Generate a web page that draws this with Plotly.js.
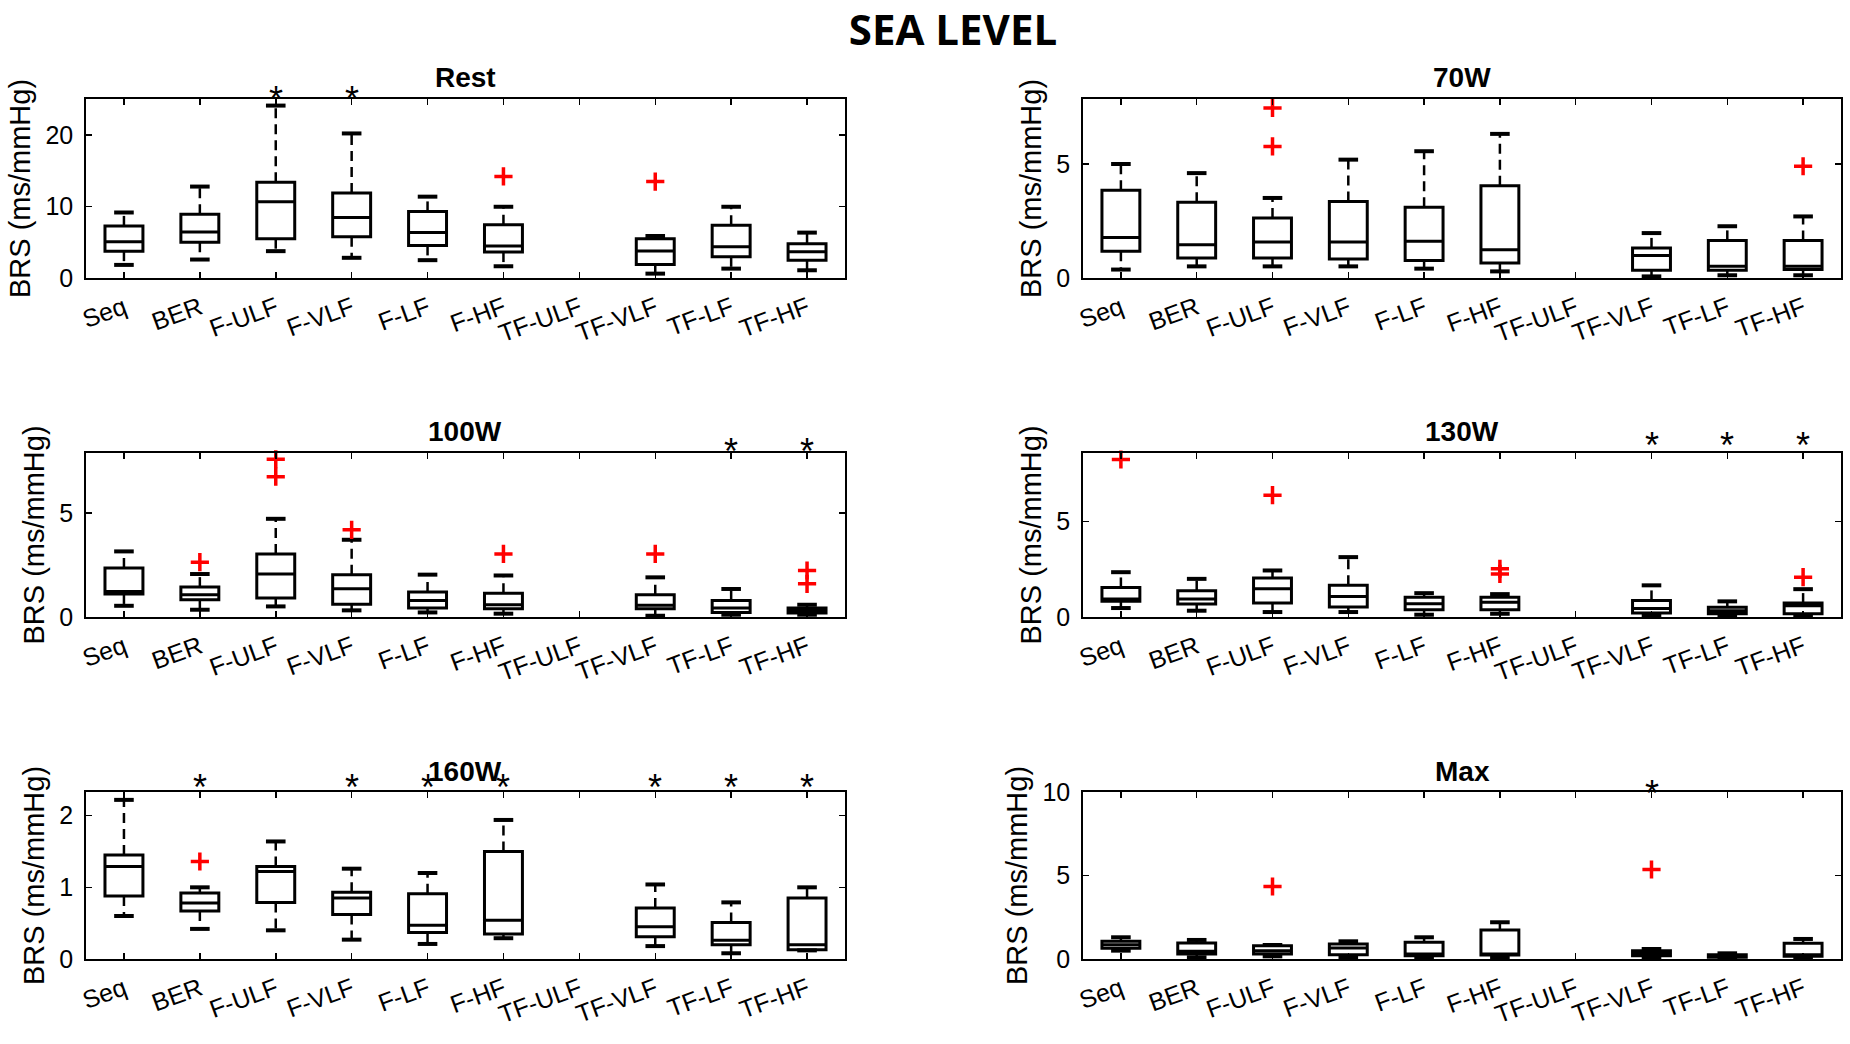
<!DOCTYPE html>
<html><head><meta charset="utf-8">
<script src="https://cdn.plot.ly/plotly-3.0.1.min.js"></script>
<style>html,body{margin:0;padding:0;background:#fff;} #chart{width:1850px;height:1044px;}</style>
</head><body><div id="chart"></div>
<script>
const categories = ['Seq','BER','F-ULF','F-VLF','F-LF','F-HF','TF-ULF','TF-VLF','TF-LF','TF-HF'];
const mainTitle = 'SEA LEVEL';
const yTitle = 'BRS (ms/mmHg)';

// Rest
const restLow  = [1.83, 2.58, 3.75, 2.82, 2.49, 1.64, null, 0.61, 1.31, 1.08];
const restQ1   = [3.75, 5.00, 5.49, 5.77, 4.55, 3.62, null, 1.88, 2.96, 2.49];
const restMed  = [5.07, 6.43, 10.66, 8.45, 6.34, 4.46, null, 3.76, 4.37, 3.66];
const restQ3   = [7.28, 8.92, 13.38, 11.88, 9.30, 7.42, null, 5.49, 7.37, 4.79];
const restHigh = [9.15, 12.77, 24.08, 20.19, 11.36, 9.95, null, 5.87, 9.95, 6.34];
const restOutX = ['F-HF','TF-VLF'];
const restOutY = [14.18, 13.47];
const restSig  = ['F-ULF','F-VLF'];

// 70W
const w70Low  = [0.37, 0.51, 0.51, 0.51, 0.41, 0.29, null, 0.07, 0.12, 0.12];
const w70Q1   = [1.17, 0.88, 0.88, 0.83, 0.77, 0.66, null, 0.34, 0.34, 0.37];
const w70Med  = [1.78, 1.46, 1.58, 1.58, 1.61, 1.24, null, 0.99, 0.51, 0.51];
const w70Q3   = [3.85, 3.32, 2.63, 3.36, 3.10, 4.05, null, 1.32, 1.65, 1.64];
const w70High = [5.00, 4.60, 3.51, 5.19, 5.56, 6.32, null, 1.97, 2.27, 2.70];
const w70OutX = ['F-ULF','F-ULF','TF-HF'];
const w70OutY = [7.46, 5.77, 4.90];
const w70Sig  = [];

// 100W
const w100Low  = [0.54, 0.35, 0.51, 0.32, 0.22, 0.16, null, 0.06, 0.11, 0.11];
const w100Q1   = [1.11, 0.83, 0.91, 0.62, 0.43, 0.40, null, 0.40, 0.22, 0.19];
const w100Med  = [1.23, 1.07, 2.07, 1.36, 0.79, 0.59, null, 0.56, 0.43, 0.32];
const w100Q3   = [2.36, 1.44, 3.04, 2.04, 1.20, 1.15, null, 1.07, 0.79, 0.43];
const w100High = [3.16, 2.07, 4.73, 3.72, 2.04, 2.00, null, 1.91, 1.35, 0.59];
const w100OutX = ['BER','F-ULF','F-ULF','F-VLF','F-HF','TF-VLF','TF-HF','TF-HF'];
const w100OutY = [2.64, 7.60, 6.76, 4.20, 3.04, 3.04, 2.24, 1.60];
const w100Sig  = ['TF-LF','TF-HF'];

// 130W
const w130Low  = [0.47, 0.33, 0.26, 0.26, 0.12, 0.17, null, 0.07, 0.03, 0.07];
const w130Q1   = [0.82, 0.68, 0.73, 0.52, 0.38, 0.38, null, 0.21, 0.17, 0.17];
const w130Med  = [0.94, 0.94, 1.48, 1.08, 0.70, 0.78, null, 0.44, 0.33, 0.59];
const w130Q3   = [1.55, 1.38, 2.04, 1.66, 1.03, 1.03, null, 0.87, 0.51, 0.73];
const w130High = [2.35, 2.00, 2.44, 3.14, 1.25, 1.20, null, 1.66, 0.82, 1.46];
const w130OutX = ['Seq','F-ULF','F-HF','F-HF','TF-HF'];
const w130OutY = [8.26, 6.39, 2.53, 2.26, 2.09];
const w130Sig  = ['TF-VLF','TF-LF','TF-HF'];

// 160W
const w160Low  = [0.60, 0.42, 0.40, 0.27, 0.21, 0.29, null, 0.18, 0.08, 0.12];
const w160Q1   = [0.88, 0.67, 0.79, 0.62, 0.37, 0.35, null, 0.31, 0.20, 0.13];
const w160Med  = [1.29, 0.78, 1.22, 0.85, 0.47, 0.54, null, 0.45, 0.26, 0.20];
const w160Q3   = [1.45, 0.92, 1.29, 0.93, 0.91, 1.50, null, 0.71, 0.51, 0.85];
const w160High = [2.22, 1.00, 1.64, 1.26, 1.20, 1.94, null, 1.04, 0.79, 1.00];
const w160OutX = ['BER'];
const w160OutY = [1.36];
const w160Sig  = ['BER','F-VLF','F-LF','F-HF','TF-VLF','TF-LF','TF-HF'];

// Max
const maxLow  = [0.50, 0.10, 0.16, 0.10, 0.10, 0.10, null, 0.10, 0.04, 0.10];
const maxQ1   = [0.64, 0.30, 0.30, 0.26, 0.20, 0.24, null, 0.20, 0.10, 0.16];
const maxMed  = [0.86, 0.46, 0.50, 0.66, 0.30, 0.30, null, 0.34, 0.16, 0.26];
const maxQ3   = [1.06, 0.96, 0.80, 0.90, 1.00, 1.74, null, 0.50, 0.26, 0.94];
const maxHigh = [1.30, 1.14, 0.84, 1.06, 1.30, 2.20, null, 0.60, 0.34, 1.20];
const maxOutX = ['F-ULF','TF-VLF'];
const maxOutY = [4.34, 5.36];
const maxSig  = ['TF-VLF'];

const panelTitles = ['Rest','70W','100W','130W','160W','Max'];
const yMax   = [25, 7.85, 7.9, 8.6, 2.33, 10];
const yDtick = [10, 5, 5, 5, 1, 5];

const panels = [
  {low:restLow,q1:restQ1,med:restMed,q3:restQ3,high:restHigh,ox:restOutX,oy:restOutY,sig:restSig,sigShift:0},
  {low:w70Low,q1:w70Q1,med:w70Med,q3:w70Q3,high:w70High,ox:w70OutX,oy:w70OutY,sig:w70Sig,sigShift:0},
  {low:w100Low,q1:w100Q1,med:w100Med,q3:w100Q3,high:w100High,ox:w100OutX,oy:w100OutY,sig:w100Sig,sigShift:2},
  {low:w130Low,q1:w130Q1,med:w130Med,q3:w130Q3,high:w130High,ox:w130OutX,oy:w130OutY,sig:w130Sig,sigShift:8},
  {low:w160Low,q1:w160Q1,med:w160Med,q3:w160Q3,high:w160High,ox:w160OutX,oy:w160OutY,sig:w160Sig,sigShift:5},
  {low:maxLow,q1:maxQ1,med:maxMed,q3:maxQ3,high:maxHigh,ox:maxOutX,oy:maxOutY,sig:maxSig,sigShift:-1}
];

const W = 1850, H = 1044;
const colX = [[86, 845], [1083, 1841]];
const rowY = [[99, 278], [453, 617], [792, 959]];
const titleY = [78, 432, 771];

const FONT = '"Liberation Sans", Arial, Helvetica, sans-serif';
const traces = [];
const layout = {
  width: W, height: H,
  margin: {l:0, r:0, t:0, b:0},
  paper_bgcolor: '#fff', plot_bgcolor: '#fff',
  showlegend: false,
  font: {family: FONT, color: '#000'},
  annotations: [],
  title: {text: mainTitle, x: 953/W, xanchor: 'center', y: 1 - 30/H, yanchor: 'middle',
          font: {family: '"Open Sans", "DejaVu Sans", sans-serif', size: 42, weight: 700, color: '#000'}}
};

panels.forEach((p, i) => {
  const n = i + 1;
  const xa = 'x' + (n === 1 ? '' : n), ya = 'y' + (n === 1 ? '' : n);
  const col = i % 2, row = Math.floor(i / 2);
  const idx = [];
  categories.forEach((c, k) => { if (p.q1[k] !== null) idx.push(k); });
  const pos = idx.map(k => k + 1);

  traces.push({
    type: 'box', xaxis: xa, yaxis: ya,
    x: pos,
    q1: idx.map(k => p.q1[k]), median: idx.map(k => p.med[k]), q3: idx.map(k => p.q3[k]),
    lowerfence: idx.map(k => p.q1[k]), upperfence: idx.map(k => p.q3[k]),
    width: 0.5, whiskerwidth: 0, boxpoints: false,
    line: {color: '#000', width: 3}, fillcolor: 'rgba(0,0,0,0)',
    hoverinfo: 'skip'
  });

  const wx = [], wy = [];
  idx.forEach(k => {
    wx.push(k + 1, k + 1, null, k + 1, k + 1, null);
    wy.push(p.q3[k], p.high[k], null, p.q1[k], p.low[k], null);
  });
  traces.push({type: 'scatter', mode: 'lines', xaxis: xa, yaxis: ya, x: wx, y: wy,
    line: {color: '#000', width: 2.5, dash: '10px,6px'}, hoverinfo: 'skip', connectgaps: false});

  const cx = [], cy = [];
  idx.forEach(k => { cx.push(k + 1, k + 1); cy.push(p.low[k], p.high[k]); });
  traces.push({type: 'scatter', mode: 'markers', xaxis: xa, yaxis: ya, x: cx, y: cy,
    marker: {symbol: 'line-ew', size: 14, line: {color: '#000', width: 4}}, hoverinfo: 'skip'});

  traces.push({type: 'scatter', mode: 'markers', xaxis: xa, yaxis: ya,
    x: p.ox.map(c => categories.indexOf(c) + 1), y: p.oy,
    marker: {symbol: 'cross-thin', size: 13, color: '#ff0000', line: {color: '#ff0000', width: 3.5}},
    cliponaxis: false, hoverinfo: 'skip'});

  p.sig.forEach(c => {
    layout.annotations.push({xref: xa, yref: ya + ' domain', x: categories.indexOf(c) + 1, y: 1,
      text: '*', showarrow: false, xanchor: 'center', yanchor: 'middle', yshift: p.sigShift,
      font: {family: FONT, size: 36, color: '#000'}});
  });

  const xd = [colX[col][0] / W, colX[col][1] / W];
  const yd = [1 - rowY[row][1] / H, 1 - rowY[row][0] / H];
  const axCommon = {showline: true, linecolor: '#000', linewidth: 1.8, mirror: 'ticks',
    ticks: 'inside', ticklen: 6, tickwidth: 1.5, tickcolor: '#000',
    showgrid: false, zeroline: false, fixedrange: true};

  layout['xaxis' + (n === 1 ? '' : n)] = Object.assign({}, axCommon, {
    domain: xd, anchor: ya, range: [0.5, 10.5],
    tickmode: 'array', tickvals: categories.map((c, k) => k + 1), ticktext: categories,
    tickangle: -20, tickfont: {family: FONT, size: 25, color: '#000'}, ticklabelstandoff: 4
  });
  layout['yaxis' + (n === 1 ? '' : n)] = Object.assign({}, axCommon, {
    domain: yd, anchor: xa, range: [0, yMax[i]], tick0: 0, dtick: yDtick[i],
    tickfont: {family: FONT, size: 25, color: '#000'}, ticklabelstandoff: 6,
    title: {text: yTitle, font: {family: FONT, size: 29, color: '#000'}, standoff: 6}
  });

  layout.annotations.push({xref: 'paper', yref: 'paper', x: (xd[0] + xd[1]) / 2, y: 1 - titleY[row] / H,
    text: '<b>' + panelTitles[i] + '</b>', showarrow: false, xanchor: 'center', yanchor: 'middle',
    font: {family: FONT, size: 28, color: '#000'}});
});

Plotly.newPlot('chart', traces, layout, {displayModeBar: false, staticPlot: true});
</script>
</body></html>
